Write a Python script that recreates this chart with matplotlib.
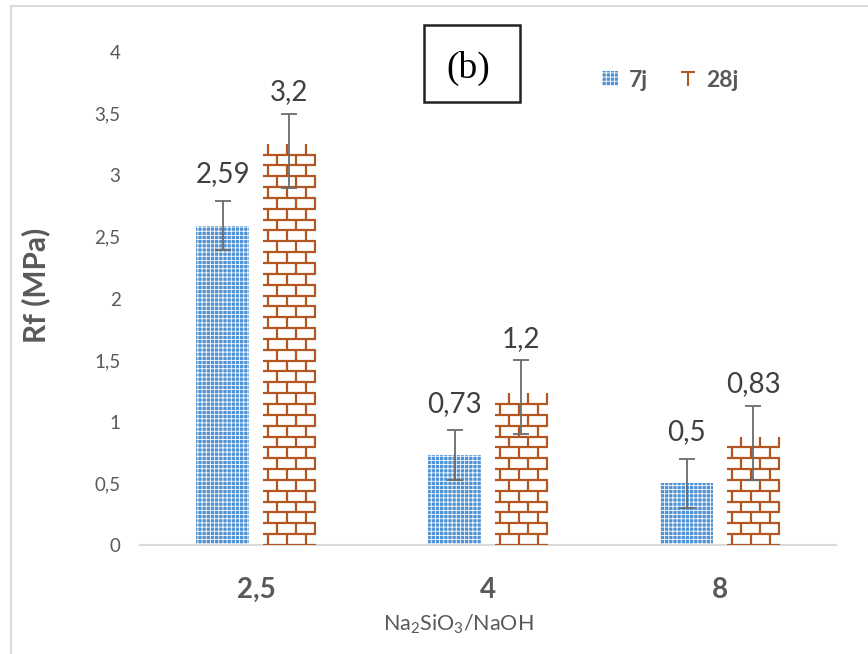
import numpy as np
import matplotlib
matplotlib.use("Agg")
import matplotlib.pyplot as plt
from matplotlib.patches import Patch, Rectangle
from matplotlib.lines import Line2D
from matplotlib.path import Path
from matplotlib.collections import LineCollection

plt.rcParams['font.family'] = ['Lato', 'DejaVu Sans']
plt.rcParams['mathtext.fontset'] = 'custom'
plt.rcParams['mathtext.rm'] = 'Lato'
plt.rcParams['mathtext.default'] = 'regular'
plt.rcParams['hatch.linewidth'] = 0.6

# data
ratios = ['2,5', '4', '8']
rf_7j = [2.59, 0.73, 0.5]
rf_28j = [3.2, 1.2, 0.83]
err_7j = [0.2, 0.2, 0.2]
err_28j = [0.3, 0.3, 0.3]
labels_7j = ['2,59', '0,73', '0,5']
labels_28j = ['3,2', '1,2', '0,83']
yticks = [0, 0.5, 1, 1.5, 2, 2.5, 3, 3.5, 4]
ytick_labels = ['0', '0,5', '1', '1,5', '2', '2,5', '3', '3,5', '4']

blue = '#4F93D6'
brick = '#B4561F'
grey = '#595959'

fig = plt.figure(figsize=(8.68, 6.54), dpi=100)
ax = fig.add_axes([140/868, 109/654, 696/868, 493/654])

x = np.arange(len(ratios))
w = 0.229
off = 0.144

bars7 = ax.bar(x - off, rf_7j, w, color=blue, edgecolor='white',
               linewidth=0, hatch='++++', zorder=2)
bars28 = ax.bar(x + off, rf_28j, w, color='white', linewidth=0, zorder=2)

# brick pattern drawn inside the 28j bars
row_h = 0.088
brick_w = w / 2.8
for rect in bars28:
    x0, bw, h = rect.get_x(), rect.get_width(), rect.get_height()
    segs = []
    for i, y0 in enumerate(np.arange(0, h, row_h)):
        segs.append([(x0, y0), (x0 + bw, y0)])
        shift = brick_w * 0.25 if i % 2 == 0 else brick_w * 0.75
        for xv in np.arange(x0 + shift, x0 + bw, brick_w):
            segs.append([(xv, y0), (xv, y0 + row_h)])
    lc = LineCollection(segs, colors=brick, linewidths=1.6, zorder=3)
    lc.set_clip_path(rect)
    ax.add_collection(lc)

ax.errorbar(x - off, rf_7j, yerr=err_7j, fmt='none', ecolor='#6b6b6b',
            elinewidth=1.3, capsize=5.5, capthick=1.3, zorder=4)
ax.errorbar(x + off, rf_28j, yerr=err_28j, fmt='none', ecolor='#6b6b6b',
            elinewidth=1.3, capsize=5.5, capthick=1.3, zorder=4)

for xi, v, t in zip(x - off, rf_7j, labels_7j):
    ax.annotate(t, (xi, v), xytext=(0, 37), textcoords='offset points',
                ha='center', va='center', fontsize=20, color='#404040')
for xi, v, t in zip(x + off, rf_28j, labels_28j):
    ax.annotate(t, (xi, v), xytext=(0, 42), textcoords='offset points',
                ha='center', va='center', fontsize=20, color='#404040')

ax.set_xlim(-0.5, 2.5)
ax.set_ylim(0, 4)
ax.set_xticks(x)
ax.set_xticklabels(ratios, fontsize=20, fontweight='bold', color=grey)
ax.set_yticks(yticks)
ax.set_yticklabels(ytick_labels, fontsize=13.5, color=grey)
ax.tick_params(axis='both', length=0)
ax.tick_params(axis='x', pad=23)
ax.tick_params(axis='y', pad=14)
for s in ['top', 'right', 'left']:
    ax.spines[s].set_visible(False)
ax.spines['bottom'].set_color('#D9D9D9')
ax.spines['bottom'].set_linewidth(1.5)

ax.set_ylabel('Rf (MPa)', fontsize=21.5, fontweight='bold', color=grey)
ax.yaxis.set_label_coords(-0.129, 0.527)
ax.set_xlabel('Na$_2$SiO$_3$/NaOH', fontsize=15.5, color=grey)
ax.xaxis.set_label_coords(0.457, -0.138)

# thin T-shaped handle for the brick series
tee = Path([(-1, 1), (1, 1), (0, 1), (0, -1)],
           [Path.MOVETO, Path.LINETO, Path.MOVETO, Path.LINETO])
handles = [Patch(facecolor=blue, edgecolor='white', linewidth=0, hatch='++++'),
           Line2D([], [], color=brick, linestyle='none', marker=tee,
                  markersize=10, markeredgewidth=1.5)]
ax.legend(handles, ['7j', '28j'], ncol=2, frameon=False,
          loc='center left', bbox_to_anchor=(0.664, 0.943),
          borderpad=0, borderaxespad=0, handlelength=0.7, handleheight=0.65,
          handletextpad=0.45, columnspacing=1.4,
          prop={'size': 16.5, 'weight': 'bold'}, labelcolor=grey)

# (b) box
fig.patches.append(Rectangle((424/868, 1 - 102/654), 96/868, 77/654,
                             transform=fig.transFigure, fill=False,
                             edgecolor='#222222', linewidth=1.8))
fig.text(468/868, 1 - 68/654, '(b)', ha='center', va='center',
         fontsize=27, family='Liberation Serif', color='black')

# outer chart frame
fig.patches.append(Rectangle((11/868, -0.1), 1.2, 1 - 6/654 + 0.1,
                             transform=fig.transFigure, fill=False,
                             edgecolor='#D9D9D9', linewidth=1.5))

fig.savefig('out.png', dpi=100)
